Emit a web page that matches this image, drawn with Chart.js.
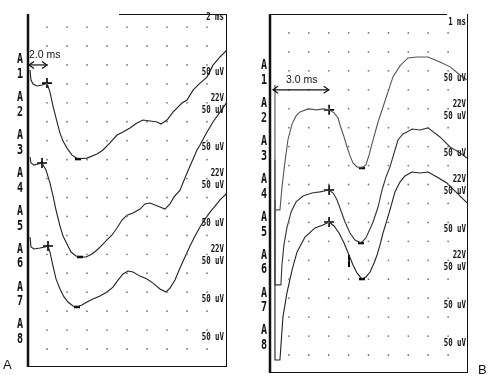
<!DOCTYPE html>
<html><head><meta charset="utf-8">
<script src="https://cdn.jsdelivr.net/npm/chart.js@4"></script>
<style>
html,body{margin:0;padding:0;background:#fff;width:500px;height:381px;overflow:hidden}
.p{position:absolute;top:0;width:250px;height:381px}
</style></head><body>
<div class="p" style="left:0"><canvas id="ca" width="250" height="381"></canvas></div>
<div class="p" style="left:250px"><canvas id="cb" width="250" height="381"></canvas></div>
<script>
// ---------- data (time in ms, amplitude in grid divisions) ----------
const channelDigits = ['1','2','3','4','5','6','7','8'];
const sensLabel = '50 uV';
const gainLabel = '22V';

// Panel A: 2 ms / division
const gridTimesA = [2,4,6,8,10,12,14,16,18];
const gridRows = [0,1,2,3,4,5,6,7,8,9,10,11,12,13,14,15,16,17];
const a1T = [0.3,0.4,0.6,1.0,1.5,2.0,2.3,2.6,3.0,3.3,3.6,4.0,4.5,5.1,5.5,6.0,7.0,7.6,8.3,9.0,9.6,10.3,11.0,11.6,12.3,13.0,13.4,14.0,14.6,15.5,16.0,16.6,17.3,18.0,18.6,19.3,20.0];
const a1V = [14.73,14.20,13.99,13.89,13.94,14.04,13.57,12.83,11.99,11.40,10.98,10.61,10.24,10.03,10.06,10.08,10.30,10.51,10.88,11.30,11.46,11.67,11.93,12.09,12.04,11.99,11.88,12.09,12.51,12.99,13.15,13.67,14.04,14.36,14.99,15.42,15.79];
const a4T = [0.3,0.4,0.7,1.1,1.5,1.9,2.3,2.6,2.9,3.3,3.6,4.0,4.4,4.9,5.3,5.9,6.5,7.0,7.5,8.0,8.5,9.0,9.5,10.0,10.6,11.3,11.8,12.3,12.8,13.3,13.8,14.3,14.7,15.3,16.0,17.0,17.3,18.0,18.6,19.3,20.0];
const a4V = [10.14,9.82,9.71,9.77,9.82,9.45,8.76,8.08,7.34,6.49,5.97,5.54,5.12,4.91,4.86,4.86,5.02,5.23,5.49,5.76,6.02,6.39,6.81,7.07,7.18,7.39,7.66,7.71,7.60,7.50,7.39,7.66,8.03,8.39,9.29,10.51,10.77,11.46,11.99,12.51,13.04];
const a6T = [0.3,0.4,0.7,1.3,1.8,2.1,2.3,2.6,2.9,3.3,3.7,4.1,4.6,5.0,5.5,6.0,6.6,7.3,8.0,8.6,9.1,9.6,10.1,10.6,11.3,12.0,12.6,13.3,13.9,14.3,14.8,15.3,15.8,16.3,16.8,17.3,17.8,18.3,18.8,19.3,20.0];
const a6V = [5.91,5.39,5.28,5.33,5.39,5.44,5.12,4.38,3.70,3.17,2.75,2.48,2.27,2.22,2.32,2.48,2.64,2.80,3.01,3.27,3.64,3.96,4.12,4.07,3.85,3.70,3.48,3.17,3.01,3.22,3.64,4.28,4.86,5.44,5.97,6.44,6.86,7.23,7.55,7.87,8.23];
const markTA = [2.0,1.5,2.1];
const markVA = [14.04,9.82,5.44];
const minTA = [5.1,5.3,5.0];
const minVA = [10.03,4.86,2.22];

// Panel B: 1 ms / division
const gridTimesB = [1,2,3,4,5,6,7,8,9];
const b1T = [0.30,0.30,0.55,0.65,0.80,0.95,1.16,1.36,1.56,1.96,2.41,2.71,3.02,3.27,3.47,3.57,3.77,3.92,4.07,4.22,4.42,4.67,4.87,5.03,5.23,5.48,5.73,5.98,6.23,6.58,6.98,7.44,7.99,8.59,9.10,9.60,9.95];
const b1V = [14.26,7.66,7.66,8.82,10.19,11.35,12.20,12.62,12.83,12.99,12.94,12.99,12.94,12.78,12.51,12.14,11.51,10.98,10.51,10.14,9.93,9.87,10.03,10.56,11.35,12.30,13.09,13.89,14.68,15.26,15.68,15.73,15.73,15.47,15.21,14.78,14.52];
const b2T = [0.30,0.30,0.60,0.65,0.75,0.90,1.11,1.36,1.71,2.16,2.56,3.02,3.22,3.42,3.62,3.82,4.07,4.32,4.62,4.87,5.23,5.48,5.68,5.88,6.08,6.33,6.48,6.73,6.93,7.19,7.59,7.99,8.59,9.10,9.60,9.95];
const b2V = [10.30,3.70,3.70,4.75,5.81,6.71,7.55,8.08,8.39,8.55,8.61,8.71,8.55,8.18,7.60,7.02,6.44,6.07,5.91,6.18,7.02,7.81,8.71,9.40,9.93,10.82,11.35,11.67,11.77,11.93,11.88,11.99,11.51,10.98,10.67,10.40];
const b3T = [0.30,0.30,0.55,0.70,0.90,1.16,1.41,1.81,2.31,2.71,3.02,3.27,3.52,3.77,4.02,4.22,4.42,4.67,4.87,5.08,5.28,5.43,5.58,5.73,5.93,6.08,6.33,6.58,6.83,7.19,7.59,7.99,8.44,8.94,9.45,9.95];
const b3V = [8.18,-0.26,-0.26,2.01,3.27,4.49,5.44,6.23,6.71,6.86,7.02,6.81,6.44,5.91,5.28,4.75,4.33,4.01,4.12,4.38,4.86,5.28,5.81,6.44,7.13,7.66,8.61,9.13,9.45,9.66,9.61,9.66,9.40,9.08,8.55,8.03];
const markTB = [3.02,3.02,3.02];
const markVB = [12.94,8.71,7.02];
const minTB = [4.67,4.62,4.67];
const minVB = [9.87,5.91,4.01];
const tickTB = [4.02];
const tickVB = [4.96];

// ---------- helpers ----------
const pts = (t, v) => t.map((x, i) => ({x, y: v[i]}));
const gridPts = (cols, rows) => { const o = []; rows.forEach(r => cols.forEach(c => o.push({x: c, y: r}))); return o; };

function txt(ctx, s, x, y, font, sx, align) {
  ctx.save();
  ctx.translate(x, y);
  ctx.scale(sx, 1);
  ctx.font = font;
  ctx.textAlign = align;
  ctx.textBaseline = 'middle';
  ctx.fillStyle = '#111';
  ctx.fillText(s, 0, 0);
  ctx.restore();
}
function arrowHead(ctx, x, y, dir) {
  ctx.beginPath();
  ctx.moveTo(x + dir * 5, y - 3.5);
  ctx.lineTo(x, y);
  ctx.lineTo(x + dir * 5, y + 3.5);
  ctx.stroke();
}

const panelText = {
  id: 'panelText',
  afterDatasetsDraw(chart, args, o) {
    const {ctx, chartArea: ca, scales: {x, y}} = chart;
    ctx.save();
    ctx.strokeStyle = '#111';
    ctx.lineCap = 'butt';
    // frame
    ctx.lineWidth = 1;
    ctx.beginPath();
    ctx.moveTo(x.getPixelForValue(o.topFrom), ca.top + 0.5);
    ctx.lineTo(x.getPixelForValue(o.topTo), ca.top + 0.5);
    ctx.moveTo(ca.right - 0.5, ca.top);
    ctx.lineTo(ca.right - 0.5, ca.bottom);
    ctx.moveTo(ca.left, ca.bottom - 0.5);
    ctx.lineTo(ca.right, ca.bottom - 0.5);
    ctx.stroke();
    ctx.lineWidth = 2.5;
    ctx.beginPath();
    ctx.moveTo(ca.left + 1, ca.top);
    ctx.lineTo(ca.left + 1, ca.bottom);
    ctx.stroke();
    // channel labels + sensitivity labels
    channelDigits.forEach((d, k) => {
      const vy = 14.5 - 2 * k;
      txt(ctx, 'A', ca.left + o.chanDx, y.getPixelForValue(vy + 0.78), 'bold 14px "DejaVu Sans Mono"', 0.72, 'center');
      txt(ctx, d, ca.left + o.chanDx, y.getPixelForValue(vy), 'bold 14px "DejaVu Sans Mono"', 0.72, 'center');
      txt(ctx, sensLabel, ca.right + o.rightDx, y.getPixelForValue(vy + 0.12), 'bold 10px "DejaVu Sans Mono"', 0.74, 'right');
    });
    [0, 1, 2].forEach(j => {
      txt(ctx, gainLabel, ca.right + o.rightDx, y.getPixelForValue(13.25 - 4 * j), 'bold 10px "DejaVu Sans Mono"', 0.74, 'right');
    });
    // time-base label
    txt(ctx, o.base, ca.right + o.rightDx, o.baseY, 'bold 10px "DejaVu Sans Mono"', 0.74, 'right');
    // latency arrow
    const x0 = x.getPixelForValue(o.arrFrom), x1 = x.getPixelForValue(o.arrTo), ay = y.getPixelForValue(o.arrY);
    ctx.lineWidth = 1.2;
    ctx.beginPath();
    ctx.moveTo(x0, ay); ctx.lineTo(x1, ay);
    ctx.stroke();
    arrowHead(ctx, x0, ay, 1);
    arrowHead(ctx, x1, ay, -1);
    txt(ctx, o.arrText, x.getPixelForValue(o.arrTextX), y.getPixelForValue(o.arrY + 0.5), '10.5px "Liberation Sans"', 1, 'left');
    // panel letter
    txt(ctx, o.letter, o.letterX, o.letterY, '13px "Liberation Sans"', 1, 'left');
    ctx.restore();
  }
};

function makeChart(id, traces, gridCols, markT, markV, minT, minV, extra, xMax, yMax, pad, textOpts) {
  const ds = [{
    data: gridPts(gridCols, gridRows), showLine: false, pointRadius: 0.9,
    pointBackgroundColor: '#777', pointBorderWidth: 0
  }];
  traces.forEach(tr => ds.push({
    data: pts(tr[0], tr[1]), borderColor: tr[2], borderWidth: 1.1, pointRadius: 0, tension: 0, fill: false
  }));
  ds.push({
    data: pts(markT, markV), showLine: false, pointStyle: 'cross', pointRadius: 5,
    pointBorderColor: '#000', pointBorderWidth: 1.6
  });
  ds.push({
    data: pts(minT, minV), showLine: false, pointStyle: 'line', pointRadius: 3,
    pointBorderColor: '#000', pointBorderWidth: 2.5
  });
  if (extra) ds.push(extra);
  return new Chart(document.getElementById(id), {
    type: 'line',
    data: {datasets: ds},
    plugins: [panelText],
    options: {
      responsive: false, animation: false, events: [],
      layout: {padding: pad},
      scales: {
        x: {type: 'linear', display: false, min: 0, max: xMax},
        y: {type: 'linear', display: false, min: -0.95, max: yMax}
      },
      plugins: {legend: {display: false}, tooltip: {enabled: false}, panelText: textOpts}
    }
  });
}

makeChart('ca',
  [[a1T, a1V, '#222'], [a4T, a4V, '#222'], [a6T, a6V, '#222']],
  gridTimesA, markTA, markVA, minTA, minVA, null, 20, 17.69,
  {left: 27, right: 23, top: 14, bottom: 14},
  {topFrom: 9.2, topTo: 20, chanDx: -7, rightDx: -3, base: '2 ms', baseY: 17,
   arrFrom: 0.2, arrTo: 2.0, arrY: 15.0, arrText: '2.0 ms', arrTextX: 0.2,
   letter: 'A', letterX: 3, letterY: 365});

makeChart('cb',
  [[b1T, b1V, '#555'], [b2T, b2V, '#333'], [b3T, b3V, '#222']],
  gridTimesB, markTB, markVB, minTB, minVB,
  {data: pts(tickTB, tickVB), showLine: false, pointStyle: 'line', pointRotation: 90,
   pointRadius: 6, pointBorderColor: '#000', pointBorderWidth: 2},
  10, 18.0,
  {left: 19, right: 32, top: 14, bottom: 8},
  {topFrom: 0, topTo: 8.95, chanDx: -5, rightDx: -2, base: '1 ms', baseY: 22,
   arrFrom: 0.2, arrTo: 3.0, arrY: 14.0, arrText: '3.0 ms', arrTextX: 0.85,
   letter: 'B', letterX: 228, letterY: 370});
</script>
</body></html>
